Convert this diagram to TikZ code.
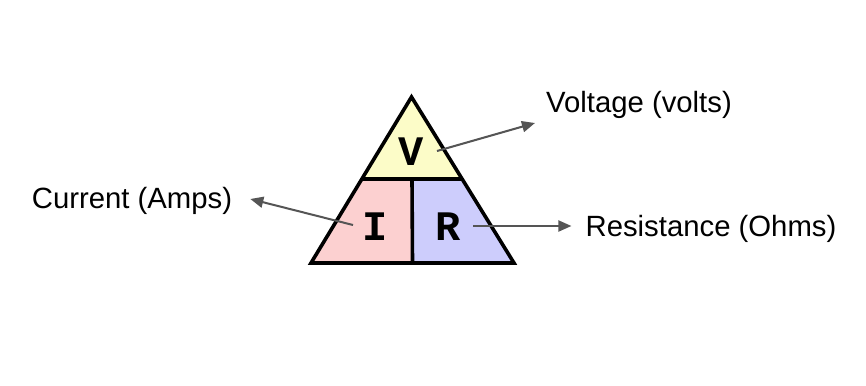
\documentclass[tikz,border=0pt]{standalone}
\usepackage{fontspec}
\setmainfont{Liberation Sans}
\newfontfamily\monob{Liberation Mono}
\usetikzlibrary{arrows.meta,calc}
\definecolor{vyel}{HTML}{FCFCC8}
\definecolor{ipink}{HTML}{FCD0D0}
\definecolor{rblue}{HTML}{CDCDFC}
\definecolor{arr}{HTML}{555555}
\tikzset{
  lbl/.style={font=\fontsize{29.3}{35}\selectfont, text=black, inner sep=0pt},
  letter/.style={font=\monob\bfseries\fontsize{42}{46}\selectfont, inner sep=0pt},
  pointer/.style={draw=arr, line width=2pt, -{Triangle[length=13pt,width=11pt]}},
  edge/.style={line width=3.6pt, line join=miter, line cap=butt}
}
\begin{document}
\begin{tikzpicture}[x=1pt,y=-1pt]
\useasboundingbox (0,0) rectangle (866,385);
\coordinate (A) at (411.5,97);
\coordinate (B) at (311,263);
\coordinate (C) at (514,263);
\coordinate (L) at ($(A)!0.494!(B)$);
\coordinate (Rr) at ($(A)!0.494!(C)$);
\coordinate (M) at ($(L)!0.5!(Rr)$);
\coordinate (Bm) at ($(B)!0.5!(C)$);
\fill[vyel] (A) -- (L) -- (Rr) -- cycle;
\fill[ipink] (L) -- (B) -- (Bm) -- (M) -- cycle;
\fill[rblue] (M) -- (Bm) -- (C) -- (Rr) -- cycle;
\draw[edge] (A) -- (B) -- (C) -- cycle;
\draw[edge] (L) -- (Rr);
\draw[edge] (M) -- (Bm);
\node[letter] (v) at (411.5,152) {V};
\node[letter] (i) at (375,227) {I};
\node[letter] (r) at (448,227) {R};
\node[lbl] (vt) at (639,105) {Voltage (volts)};
\node[lbl] (it) at (132,201) {Current (Amps)};
\node[lbl] (rt) at (711,229) {Resistance (Ohms)};
\coordinate (vs) at (437,151);
\coordinate (is) at (353,225);
\coordinate (rs) at (473,226);
\draw[pointer] (vs) -- ($(vt.west)+(-11,18)$);
\draw[pointer] (is) -- ($(it.east)+(18,-2)$);
\draw[pointer] (rs) -- ($(rt.west)+(-14,-3)$);
\end{tikzpicture}
\end{document}
